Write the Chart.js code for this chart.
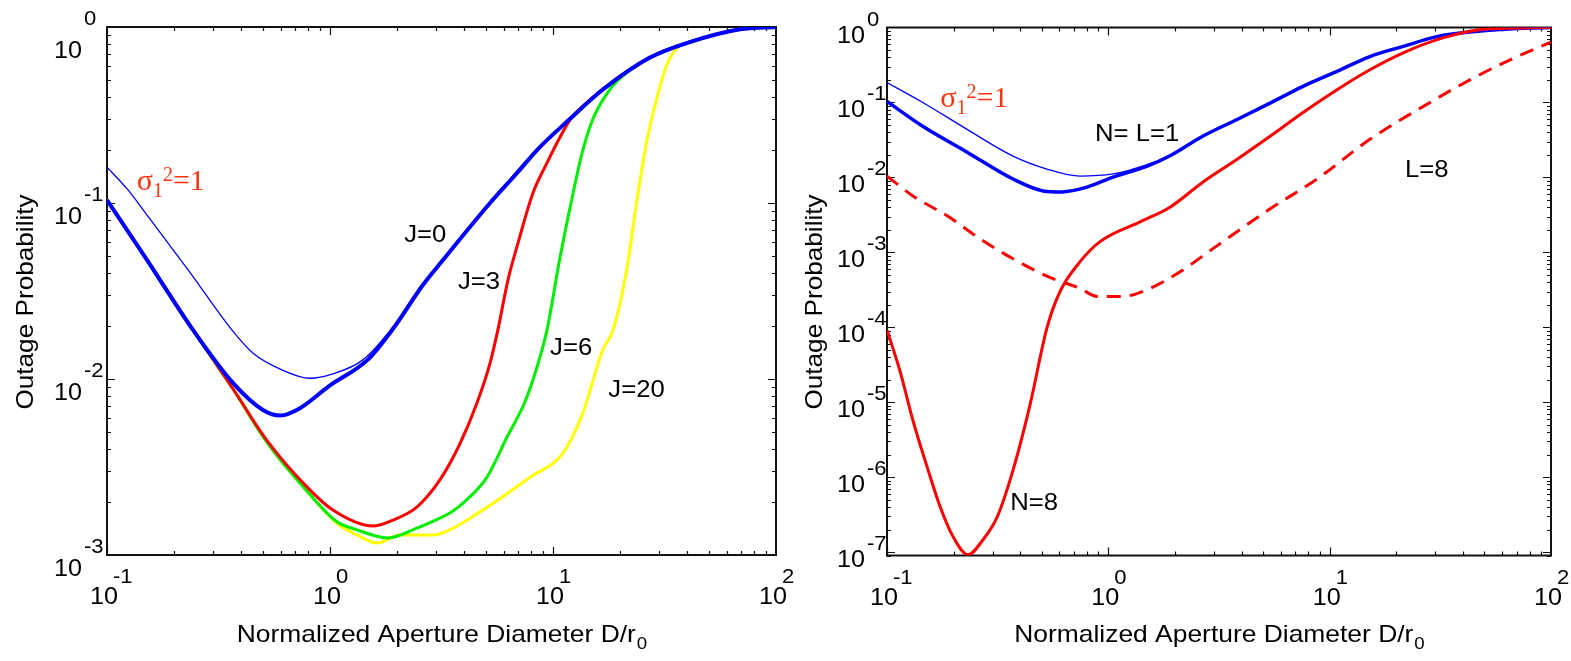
<!DOCTYPE html>
<html><head><meta charset="utf-8">
<script src="https://cdn.jsdelivr.net/npm/chart.js@4.4.1/dist/chart.umd.min.js"></script>
<style>
html,body{margin:0;padding:0;background:#fff;overflow:hidden}
#wrap{position:relative;width:1571px;height:661px;background:#fff}
#c1{position:absolute;left:0;top:0}
#c2{position:absolute;left:800px;top:0}
</style></head><body>
<div id="wrap"><canvas id="c1" width="800" height="661"></canvas><canvas id="c2" width="771" height="661"></canvas></div>
<script>
// ---------- Left panel data ----------
const xJ0Thick = [0.1, 0.15, 0.243, 0.367, 0.5, 0.6, 0.73, 1.0, 1.47, 1.9, 2.61, 3.21, 5.22, 6.9, 8.48, 11.9, 16.7, 27.2, 41, 69, 100];
const yJ0Thick = [0.104, 0.0482, 0.019, 0.0095, 0.00667, 0.0062, 0.0068, 0.0092, 0.0128, 0.019, 0.0342, 0.0474, 0.1, 0.148, 0.2, 0.30, 0.44, 0.67, 0.82, 0.97, 1.0];
const xJ0Thin = [0.1, 0.124, 0.151, 0.235, 0.363, 0.452, 0.615, 0.81, 1.03, 1.4, 1.9, 2.61, 3.21, 5.22, 8.48, 11.9, 16.7, 27.2, 41, 69, 100];
const yJ0Thin = [0.16, 0.119, 0.0855, 0.0405, 0.019, 0.014, 0.0112, 0.0101, 0.0107, 0.0128, 0.0195, 0.035, 0.048, 0.101, 0.203, 0.305, 0.45, 0.68, 0.83, 0.97, 1.0];
const xJ3 = [0.1, 0.15, 0.243, 0.367, 0.52, 0.79, 1.03, 1.56, 1.92, 2.45, 3.11, 3.83, 4.56, 5.22, 5.66, 6.28, 6.97, 8.13, 9.4, 10.7, 12, 16.7, 27.2, 41, 69, 100];
const yJ3 = [0.104, 0.0482, 0.019, 0.0088, 0.0045, 0.00243, 0.0018, 0.00146, 0.00158, 0.00187, 0.00267, 0.0043, 0.0073, 0.0123, 0.019, 0.0365, 0.0593, 0.114, 0.169, 0.234, 0.30, 0.44, 0.67, 0.82, 0.97, 1.0];
const xJ6 = [0.1, 0.15, 0.243, 0.367, 0.52, 0.79, 1.07, 1.32, 1.82, 2.45, 3.11, 3.45, 3.95, 5.06, 6.22, 7.48, 8.48, 9.4, 10.7, 12.2, 13.5, 15.1, 17.5, 19.3, 27.2, 41, 69, 100];
const yJ6 = [0.104, 0.0482, 0.019, 0.0088, 0.0044, 0.0023, 0.00155, 0.00139, 0.00125, 0.00142, 0.00162, 0.00173, 0.00197, 0.00277, 0.00468, 0.0074, 0.0117, 0.019, 0.0474, 0.108, 0.192, 0.30, 0.42, 0.49, 0.67, 0.82, 0.97, 1.0];
const xJ20 = [0.1, 0.15, 0.243, 0.367, 0.52, 0.79, 1.07, 1.32, 1.63, 2.06, 2.9, 3.45, 5.22, 7.9, 11.1, 13.6, 16.7, 18.6, 21.5, 23.8, 26.4, 29.3, 32.4, 36.3, 41, 69, 100];
const yJ20 = [0.104, 0.0482, 0.019, 0.0088, 0.0044, 0.0023, 0.00152, 0.0013, 0.00117, 0.0013, 0.0013, 0.00139, 0.00192, 0.00277, 0.0038, 0.0064, 0.0146, 0.019, 0.0433, 0.104, 0.228, 0.40, 0.61, 0.77, 0.82, 0.97, 1.0];

// ---------- Right panel data ----------
const xRThick = [0.1, 0.145, 0.23, 0.371, 0.507, 0.618, 0.80, 1.05, 1.5, 1.9, 2.68, 3.82, 5.38, 7.58, 10.8, 15.2, 21.5, 30.5, 43, 61, 100];
const yRThick = [0.103, 0.048, 0.0217, 0.0095, 0.0066, 0.0064, 0.0074, 0.0101, 0.0141, 0.0194, 0.0356, 0.0593, 0.098, 0.164, 0.26, 0.41, 0.56, 0.755, 0.87, 0.95, 1.0];
const xRThin = [0.1, 0.145, 0.23, 0.371, 0.528, 0.745, 1.05, 1.29, 1.9, 2.68, 3.82, 5.38, 7.58, 10.8, 15.2, 21.5, 30.5, 43, 61, 100];
const yRThin = [0.184, 0.1, 0.0437, 0.0192, 0.0129, 0.0104, 0.0111, 0.0129, 0.0196, 0.036, 0.06, 0.099, 0.165, 0.26, 0.41, 0.56, 0.755, 0.87, 0.95, 1.0];
const xN8 = [0.1, 0.1145, 0.131, 0.152, 0.174, 0.199, 0.232, 0.271, 0.314, 0.371, 0.443, 0.528, 0.605, 0.745, 0.917, 1.39, 1.9, 2.68, 3.82, 5.38, 7.58, 10.8, 15.2, 21.5, 32.5, 51, 100];
const yN8 = [9.2e-5, 2.6e-5, 5.7e-6, 1.35e-6, 4e-7, 1.6e-7, 9.2e-8, 1.45e-7, 2.9e-7, 1.24e-6, 9.3e-6, 9.8e-5, 3e-4, 7.5e-4, 1.39e-3, 2.55e-3, 4.0e-3, 8.7e-3, 0.0175, 0.0353, 0.0734, 0.148, 0.273, 0.46, 0.726, 0.955, 1.0];
const xL8 = [0.1, 0.131, 0.187, 0.263, 0.371, 0.528, 0.745, 0.889, 1.16, 1.54, 2.11, 2.97, 5.38, 8.77, 15.2, 26.4, 43, 65.3, 100];
const yL8 = [0.0104, 5.65e-3, 3.07e-3, 1.52e-3, 8.2e-4, 4.8e-4, 3.3e-4, 2.58e-4, 2.58e-4, 3.3e-4, 5.5e-4, 1.12e-3, 3.8e-3, 9.5e-3, 0.0322, 0.088, 0.2, 0.37, 0.64];

// ---------- Axes / labels ----------
const xRange = [0.1, 100];
const yRangeLeft = [1e-3, 1];
const yRangeRight = [9e-8, 1];
const xTickExps = [-1, 0, 1, 2];
const yTickExpsLeft = [0, -1, -2, -3];
const yTickExpsRight = [0, -1, -2, -3, -4, -5, -6, -7];
const xTitle = 'Normalized Aperture Diameter D/r';
const xTitleSub = '0';
const yTitle = 'Outage Probability';

// annotations: [text, x, y]
const annotLeft = [['J=0', 2.15, 0.06], ['J=3', 3.75, 0.0325], ['J=6', 9.7, 0.0137], ['J=20', 17.7, 0.0079]];
const sigmaLeft = [0.136, 0.119];
const annotRight = [['N= L=1', 0.871, 0.0303], ['L=8', 21.9, 0.0101], ['N=8', 0.36, 3.6e-7]];
const sigmaRight = [0.174, 0.0856];

const SANS = '"Liberation Sans", Arial, Helvetica, sans-serif';
const SERIF = '"Liberation Serif", "Times New Roman", serif';

function pts(xs, ys) { return xs.map((x, i) => ({x: x, y: ys[i]})); }

function txt(ctx, s, x, y, size, opt) {
  opt = opt || {};
  ctx.save();
  ctx.font = size + 'px ' + (opt.family || SANS);
  ctx.fillStyle = opt.color || '#000';
  ctx.textBaseline = 'alphabetic';
  const sx = opt.sx || 1;
  const w = ctx.measureText(s).width * sx;
  let dx = 0;
  if (opt.align === 'center') dx = -w / 2;
  else if (opt.align === 'right') dx = -w;
  ctx.translate(x + dx, y);
  ctx.scale(sx, 1);
  ctx.textAlign = 'left';
  ctx.fillText(s, 0, 0);
  ctx.restore();
  return w;
}
function measure(ctx, s, size, sx, family) {
  ctx.save(); ctx.font = size + 'px ' + (family || SANS);
  const w = ctx.measureText(s).width * (sx || 1); ctx.restore(); return w;
}

function drawSigma(ctx, x, y) {
  const c = '#ff3311';
  let px = x;
  px += txt(ctx, 'σ', px, y, 30, {family: SERIF, color: c});
  px += txt(ctx, '1', px, y + 7, 20, {family: SERIF, color: c});
  px += txt(ctx, '2', px, y - 9, 20, {family: SERIF, color: c});
  txt(ctx, '=1', px, y, 30, {family: SERIF, color: c});
}

function decorPlugin(cfg) {
  return {
    id: 'decor' + cfg.id,
    beforeDatasetsDraw(chart) {
      const ctx = chart.ctx, a = chart.chartArea, xs = chart.scales.x, ys = chart.scales.y;
      ctx.save();
      ctx.strokeStyle = '#111'; ctx.lineWidth = 1.2;
      ctx.beginPath();
      for (let d = -1; d <= 1; d++) {
        for (let k = 1; k <= 9; k++) {
          const v = k * Math.pow(10, d);
          const px = Math.round(xs.getPixelForValue(v)) + 0.5;
          const L = k === 1 ? 8 : 4;
          ctx.moveTo(px, a.bottom); ctx.lineTo(px, a.bottom - L);
          ctx.moveTo(px, a.top); ctx.lineTo(px, a.top + L);
        }
      }
      const ymin = ys.min;
      for (let d = Math.floor(Math.log10(ymin)); d <= -1; d++) {
        for (let k = 1; k <= 9; k++) {
          const v = k * Math.pow(10, d);
          if (v < ymin * 0.999) continue;
          const py = Math.round(ys.getPixelForValue(v)) + 0.5;
          const L = k === 1 ? 8 : 4;
          ctx.moveTo(a.left, py); ctx.lineTo(a.left + L, py);
          ctx.moveTo(a.right, py); ctx.lineTo(a.right - L, py);
        }
      }
      ctx.stroke();
      ctx.lineWidth = 2; ctx.strokeStyle = '#111';
      ctx.strokeRect(a.left, a.top, a.right - a.left, a.bottom - a.top);
      ctx.restore();

      xTickExps.forEach(e => {
        const px = xs.getPixelForValue(Math.pow(10, e));
        txt(ctx, '10', px - 3, a.bottom + 49, 24, {align: 'center', sx: 1.05});
        txt(ctx, String(e), px + 6, a.bottom + 28, 21, {sx: 1.05});
      });
      cfg.yExps.forEach((e, i) => {
        const py = ys.getPixelForValue(Math.pow(10, e));
        const baseOff = (i === 0 && cfg.topBaseOff) ? cfg.topBaseOff : cfg.baseOff;
        txt(ctx, '10', a.left + cfg.labelRight, py + baseOff, 24, {align: 'right', sx: 1.05});
        txt(ctx, String(e), a.left + cfg.labelRight + 2, py - 2, 21, {sx: 1.05});
      });
      const cx = (a.left + a.right) / 2;
      const wMain = measure(ctx, xTitle, 24, 1.1);
      const wSub = measure(ctx, xTitleSub, 17, 1.1);
      const startX = cx - (wMain + wSub) / 2;
      txt(ctx, xTitle, startX, 642, 24, {sx: 1.1});
      txt(ctx, xTitleSub, startX + wMain + 1, 649, 17, {sx: 1.1});
      ctx.save();
      ctx.translate(cfg.yTitleX, 302);
      ctx.rotate(-Math.PI / 2);
      txt(ctx, yTitle, 0, 0, 24, {align: 'center', sx: 1.09});
      ctx.restore();
    },
    afterDatasetsDraw(chart) {
      const ctx = chart.ctx, xs = chart.scales.x, ys = chart.scales.y;
      cfg.annot.forEach(([s, x, y]) => {
        txt(ctx, s, xs.getPixelForValue(x), ys.getPixelForValue(y), 24, {sx: 1.07});
      });
      drawSigma(ctx, xs.getPixelForValue(cfg.sigma[0]), ys.getPixelForValue(cfg.sigma[1]));
    }
  };
}

function makeChart(id, datasets, cfg) {
  return new Chart(document.getElementById(id), {
    type: 'scatter',
    data: {datasets: datasets},
    options: {
      responsive: false, maintainAspectRatio: false, animation: false,
      layout: {padding: cfg.padding},
      plugins: {legend: {display: false}, tooltip: {enabled: false}, title: {display: false}},
      elements: {point: {radius: 0, hoverRadius: 0}, line: {tension: 0}},
      scales: {
        x: {type: 'logarithmic', min: xRange[0], max: xRange[1],
            ticks: {display: false}, grid: {display: false}, border: {display: false},
            afterFit(s) { s.height = 0; }},
        y: {type: 'logarithmic', min: cfg.yRange[0], max: cfg.yRange[1],
            ticks: {display: false}, grid: {display: false}, border: {display: false},
            afterFit(s) { s.width = 0; }}
      }
    },
    plugins: [decorPlugin(cfg)]
  });
}

function ds(xs, ys, color, width, dash) {
  return {data: pts(xs, ys), showLine: true, borderColor: color, backgroundColor: color,
          borderWidth: width, pointRadius: 0, borderDash: dash || [], fill: false,
          cubicInterpolationMode: 'monotone',
          borderCapStyle: 'butt', borderJoinStyle: 'round'};
}

makeChart('c1', [
  ds(xJ0Thick, yJ0Thick, '#0000ff', 4),
  ds(xJ0Thin, yJ0Thin, '#0000ff', 1.3),
  ds(xJ3, yJ3, '#ff0000', 3),
  ds(xJ6, yJ6, '#00ee00', 3),
  ds(xJ20, yJ20, '#ffff00', 3)
], {id: 1, padding: {left: 107, top: 27, right: 24, bottom: 106}, yRange: yRangeLeft,
    yExps: yTickExpsLeft, labelRight: -25, baseOff: 21, topBaseOff: 31, yTitleX: 33,
    annot: annotLeft, sigma: sigmaLeft});

makeChart('c2', [
  ds(xN8, yN8, '#ff0000', 3),
  ds(xL8, yL8, '#ff0000', 3, [14, 9]),
  ds(xRThick, yRThick, '#0000ff', 3.5),
  ds(xRThin, yRThin, '#0000ff', 1.3)
], {id: 2, padding: {left: 87, top: 27.5, right: 20, bottom: 105.5}, yRange: yRangeRight,
    yExps: yTickExpsRight, labelRight: -22, baseOff: 15, yTitleX: 22,
    annot: annotRight, sigma: sigmaRight});
</script>
</body></html>
